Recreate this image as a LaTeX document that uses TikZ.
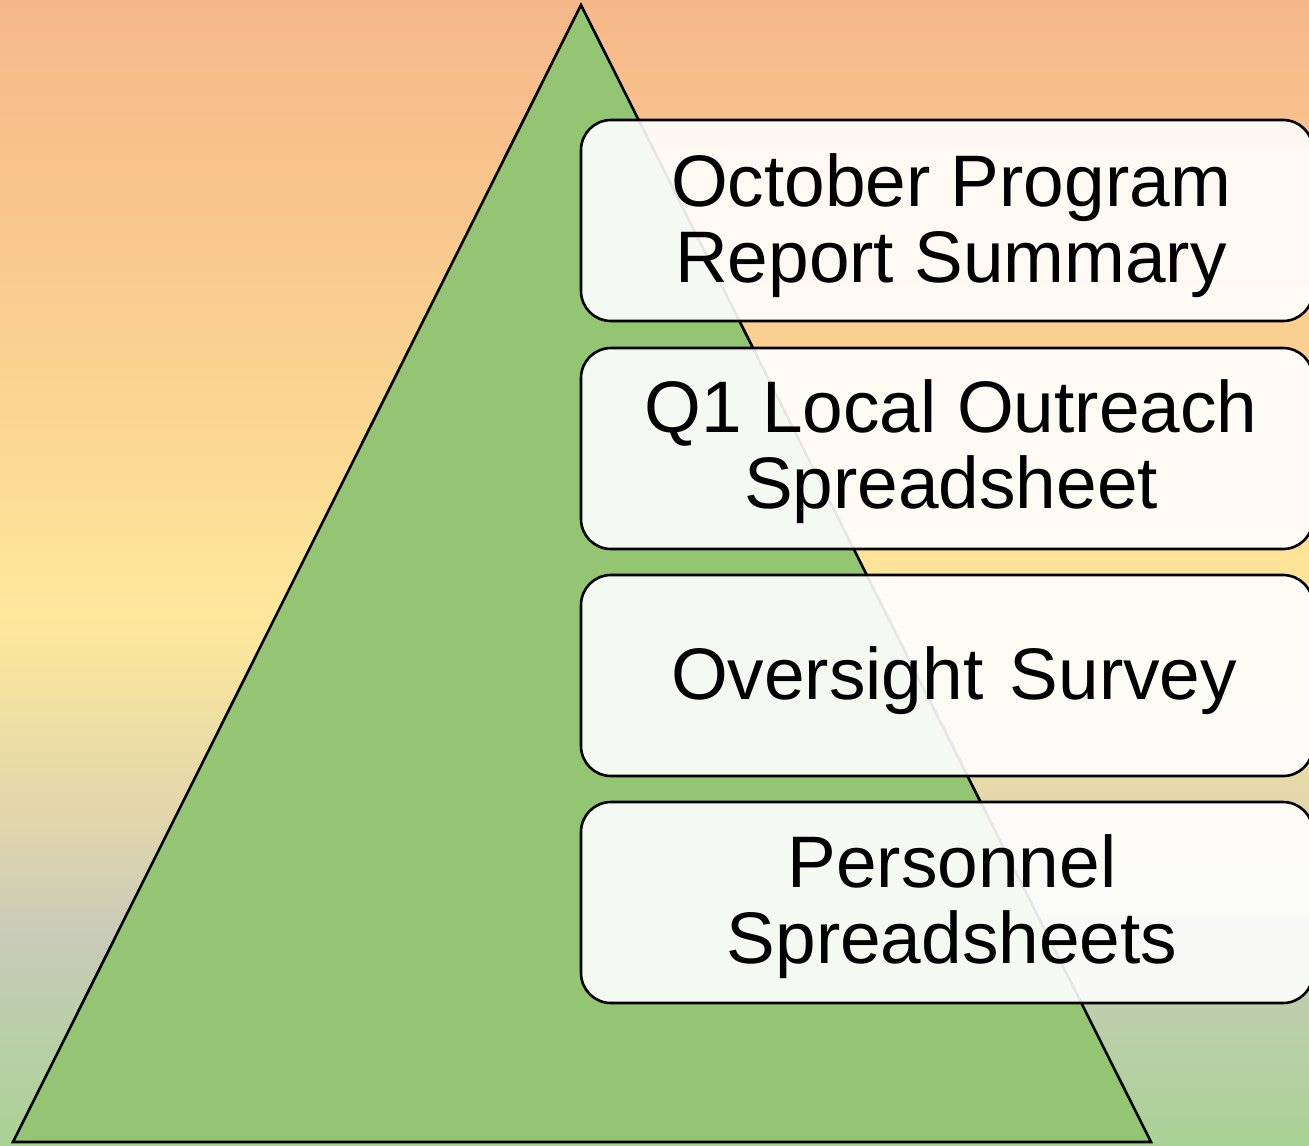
\documentclass[tikz,border=0pt]{standalone}
\usepackage{fontspec}
\setmainfont{Liberation Sans}

% background colours, top to bottom
\definecolor{bgA}{RGB}{246,184,138}
\definecolor{bgB}{RGB}{248,197,141}
\definecolor{bgC}{RGB}{251,213,145}
\definecolor{bgD}{RGB}{255,232,155}
\definecolor{bgE}{RGB}{228,216,170}
\definecolor{bgF}{RGB}{200,203,184}
\definecolor{bgG}{RGB}{170,210,150}
\definecolor{pyramid}{RGB}{147,197,114}

% vertical fade: 25bp = bottom edge, 75bp = top edge
\pgfdeclareverticalshading{skyfade}{100bp}{%
  color(0bp)=(bgG); color(25bp)=(bgG); color(34.2bp)=(bgF);
  color(40.1bp)=(bgE); color(48.1bp)=(bgD); color(57.5bp)=(bgC);
  color(66.3bp)=(bgB); color(75bp)=(bgA); color(100bp)=(bgA)}

\begin{document}
\begin{tikzpicture}[x=0.5pt,y=-0.5pt,
  tier/.style={draw=black, line width=1.3pt, fill=white, fill opacity=0.9,
    rounded corners=15pt, minimum width=366pt, minimum height=100.5pt,
    inner sep=0pt, outer sep=0pt, anchor=north west},
  tiertext/.style={font=\fontsize{36.5}{38}\selectfont, align=center,
    text=black, inner sep=0pt}]

\clip (0,0) rectangle (1309,1145);
\shade[shading=skyfade] (0,0) rectangle (1309,1145);

% pyramid
\coordinate (apex) at (581,5);
\coordinate (baseR) at (1151,1142);
\coordinate (baseL) at (13,1142);
\draw[line width=1.3pt, fill=pyramid, line join=miter] (apex) -- (baseR) -- (baseL) -- cycle;

% translucent tiers
\node[tier] (b1) at (581,120) {};
\node[tier] (b2) at (581,348) {};
\node[tier] (b3) at (581,575) {};
\node[tier] (b4) at (581,802) {};

% tier labels
\node[tiertext] (t1) at (951,226) {October Program\\Report Summary};
\node[tiertext] (t2) at (951,452) {Q1 Local Outreach\\Spreadsheet};
\node[tiertext] (t3) at (954,681) {Oversight\hspace{0.36em}Survey};
\node[tiertext] (t4) at (952,907) {Personnel\\Spreadsheets};
\end{tikzpicture}
\end{document}
